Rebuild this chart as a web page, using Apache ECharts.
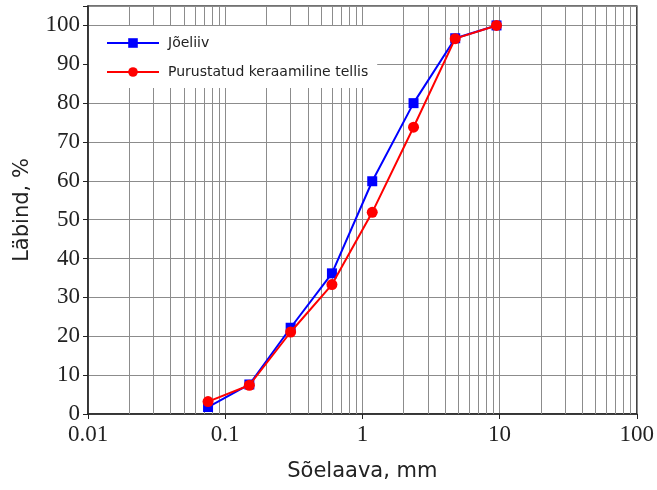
<!DOCTYPE html>
<html>
<head>
<meta charset="utf-8">
<script src="https://cdn.jsdelivr.net/npm/echarts@6/dist/echarts.min.js"></script>
<style>
  html, body { margin: 0; padding: 0; background: #fff; }
  #chart { width: 657px; height: 490px; }
</style>
</head>
<body>
<div id="chart"></div>
<script>
// sõelaavad (mm) ja läbind (%)
var sieves = [0.075, 0.15, 0.3, 0.6, 1.18, 2.36, 4.75, 9.5];
var joeliiv = [1.8, 7.6, 22.2, 36.2, 59.9, 80.0, 96.7, 100];
var tellis = [3.2, 7.4, 21.1, 33.3, 51.9, 73.8, 96.6, 100];
var yTicks = [0, 10, 20, 30, 40, 50, 60, 70, 80, 90, 100];
// log-telje vahejooned
var minorLines = [0.02, 0.03, 0.04, 0.05, 0.06, 0.07, 0.08, 0.09,
                  0.2, 0.3, 0.4, 0.5, 0.6, 0.7, 0.8, 0.9,
                  2, 3, 4, 5, 6, 7, 8, 9,
                  20, 30, 40, 50, 60, 70, 80, 90];

function pairs(xs, ys) {
    var out = [];
    for (var i = 0; i < xs.length; i++) out.push([xs[i], ys[i]]);
    return out;
}

var serif = '"Liberation Serif", "Times New Roman", serif';
var sans = '"DejaVu Sans", Verdana, sans-serif';
var gridColor = '#8c8c8c';

var option = {
    animation: false,
    backgroundColor: '#fff',
    grid: {
        left: 88, right: 19, top: 6, bottom: 76,
        show: true, borderColor: '#444', borderWidth: 1.5, backgroundColor: 'transparent'
    },
    legend: {
        data: ['Jõeliiv', 'Purustatud keraamiline tellis'],
        orient: 'vertical',
        left: 89, top: 26,
        z: 10,
        padding: [10, 9, 9, 17],
        itemGap: 15,
        itemWidth: 52, itemHeight: 12,
        backgroundColor: '#fff',
        textStyle: { fontFamily: sans, fontSize: 14, color: '#222', padding: [0, 0, 0, 4] }
    },
    xAxis: {
        type: 'log', logBase: 10, min: 0.01, max: 100,
        name: 'Sõelaava, mm', nameLocation: 'middle', nameGap: 47,
        nameTextStyle: { fontFamily: sans, fontSize: 21, color: '#222' },
        axisLine: { lineStyle: { color: '#222', width: 1.5 } },
        axisTick: { show: true, inside: false, length: 5, lineStyle: { color: '#222' } },
        axisLabel: {
            fontFamily: serif, fontSize: 23, color: '#222', margin: 9,
            formatter: function (v) { return String(+(+v).toPrecision(3)); }
        },
        splitLine: { show: true, lineStyle: { color: gridColor, width: 1 } },
        minorTick: { show: false }, minorSplitLine: { show: false }
    },
    yAxis: {
        type: 'value', min: 0, max: 105, interval: 10,
        name: 'Läbind, %', nameLocation: 'middle', nameGap: 55,
        nameTextStyle: { fontFamily: sans, fontSize: 21, color: '#222' },
        axisLine: { show: true, lineStyle: { color: '#222', width: 1.5 } },
        axisTick: { show: true, length: 5, lineStyle: { color: '#222' } },
        axisLabel: {
            fontFamily: serif, fontSize: 23, color: '#222', margin: 8,
            formatter: function (v) { return yTicks.indexOf(v) >= 0 ? String(v) : ''; }
        },
        splitLine: { show: true, lineStyle: { color: gridColor, width: 1 } }
    },
    series: [
        {
            name: 'grid', type: 'line', data: [], z: 1, silent: true,
            markLine: {
                z: 1, silent: true, symbol: ['none', 'none'], label: { show: false },
                lineStyle: { color: gridColor, width: 1, type: 'solid' },
                emphasis: { disabled: true },
                data: minorLines.map(function (v) { return { xAxis: v }; })
            }
        },
        {
            name: 'Jõeliiv', type: 'line', z: 3,
            data: pairs(sieves, joeliiv),
            symbol: 'rect', symbolSize: 10,
            lineStyle: { color: '#0000ff', width: 2 },
            itemStyle: { color: '#0000ff' }
        },
        {
            name: 'Purustatud keraamiline tellis', type: 'line', z: 4,
            data: pairs(sieves, tellis),
            symbol: 'circle', symbolSize: 11,
            lineStyle: { color: '#ff0000', width: 2 },
            itemStyle: { color: '#ff0000' }
        }
    ]
};

function loadChart(id, option) {
    var myChart = echarts.init(document.getElementById(id));
    myChart.setOption(option);
    return myChart;
}
loadChart('chart', option);
</script>
</body>
</html>
